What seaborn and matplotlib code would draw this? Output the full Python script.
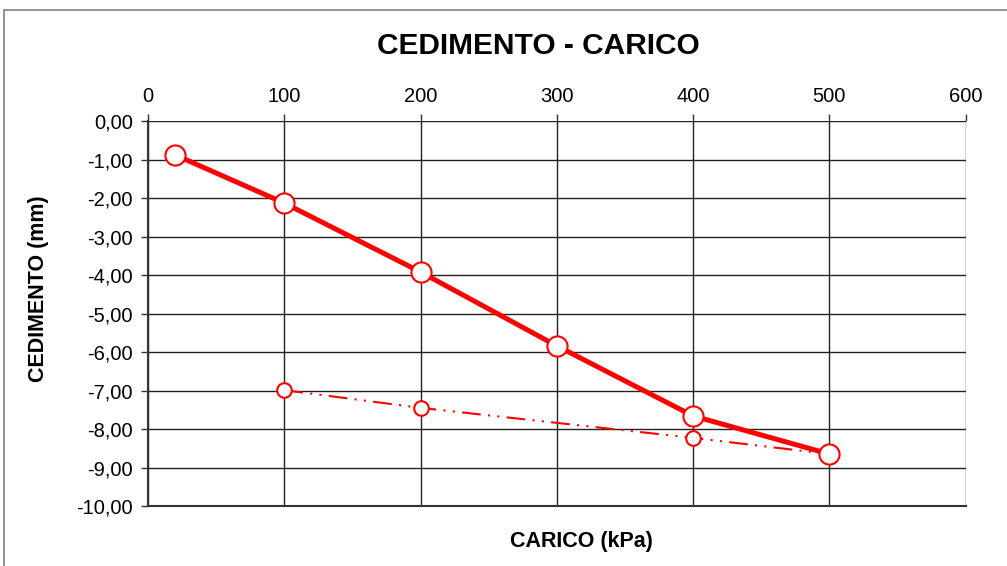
import matplotlib
matplotlib.use('Agg')
import matplotlib.pyplot as plt
import seaborn as sns
from matplotlib.ticker import FuncFormatter, MultipleLocator
from matplotlib.patches import Rectangle

# dati
carico = [20, 100, 200, 300, 400, 500]
cedimento = [-0.88, -2.13, -3.92, -5.84, -7.66, -8.65]

carico_scarico = [100, 200, 400, 500]
cedimento_scarico = [-6.99, -7.45, -8.23, -8.65]

sns.set_style('white')
plt.rcParams['font.family'] = ['Liberation Sans', 'DejaVu Sans']
plt.rcParams['text.color'] = 'black'
plt.rcParams['xtick.color'] = 'black'
plt.rcParams['ytick.color'] = 'black'

fig = plt.figure(figsize=(10.07, 5.66), dpi=100)
ax = fig.add_axes([0.147, 0.106, 0.812, 0.680])

# bordo esterno del grafico
fig.patches.append(Rectangle((0.004, -0.2), 1.2, 1.183, transform=fig.transFigure,
                             fill=False, edgecolor='#808080', linewidth=1.2))

sns.lineplot(x=carico_scarico, y=cedimento_scarico, ax=ax, color='red', linewidth=1.5,
             linestyle=(0, (9, 3.5, 1, 3.5, 1, 3.5)), marker='o', markersize=10.5,
             markerfacecolor='white', markeredgecolor='red', markeredgewidth=1.5)
sns.lineplot(x=carico, y=cedimento, ax=ax, color='red', linewidth=3.6,
             marker='o', markersize=14.5, markerfacecolor='white',
             markeredgecolor='red', markeredgewidth=1.5)

ax.set_xlim(0, 600)
ax.set_ylim(-10, 0)
ax.xaxis.set_major_locator(MultipleLocator(100))
ax.yaxis.set_major_locator(MultipleLocator(1))
ax.yaxis.set_major_formatter(FuncFormatter(lambda v, p: f'{v:.2f}'.replace('.', ',')))
ax.xaxis.tick_top()
ax.tick_params(axis='both', direction='out', length=5, width=1, color='#333333',
               labelsize=14.5, labelcolor='black', pad=6)
ax.tick_params(axis='x', top=True, bottom=False)
ax.tick_params(axis='y', left=True)
ax.grid(True, color='#222222', linewidth=1)
for s in ['top', 'right']:
    ax.spines[s].set_visible(False)
for s in ['left', 'bottom']:
    ax.spines[s].set_color('#333333')
    ax.spines[s].set_linewidth(1.5)

fig.text(0.577, 0.044, 'CARICO (kPa)', ha='center', va='center',
         fontsize=15.5, fontweight='bold', color='black')
fig.text(0.038, 0.49, 'CEDIMENTO (mm)', ha='center', va='center', rotation=90,
         fontsize=15.5, fontweight='bold', color='black')
fig.text(0.535, 0.918, 'CEDIMENTO - CARICO', ha='center', va='center',
         fontsize=21.5, fontweight='bold', color='black')

fig.savefig('out.png', dpi=100)
